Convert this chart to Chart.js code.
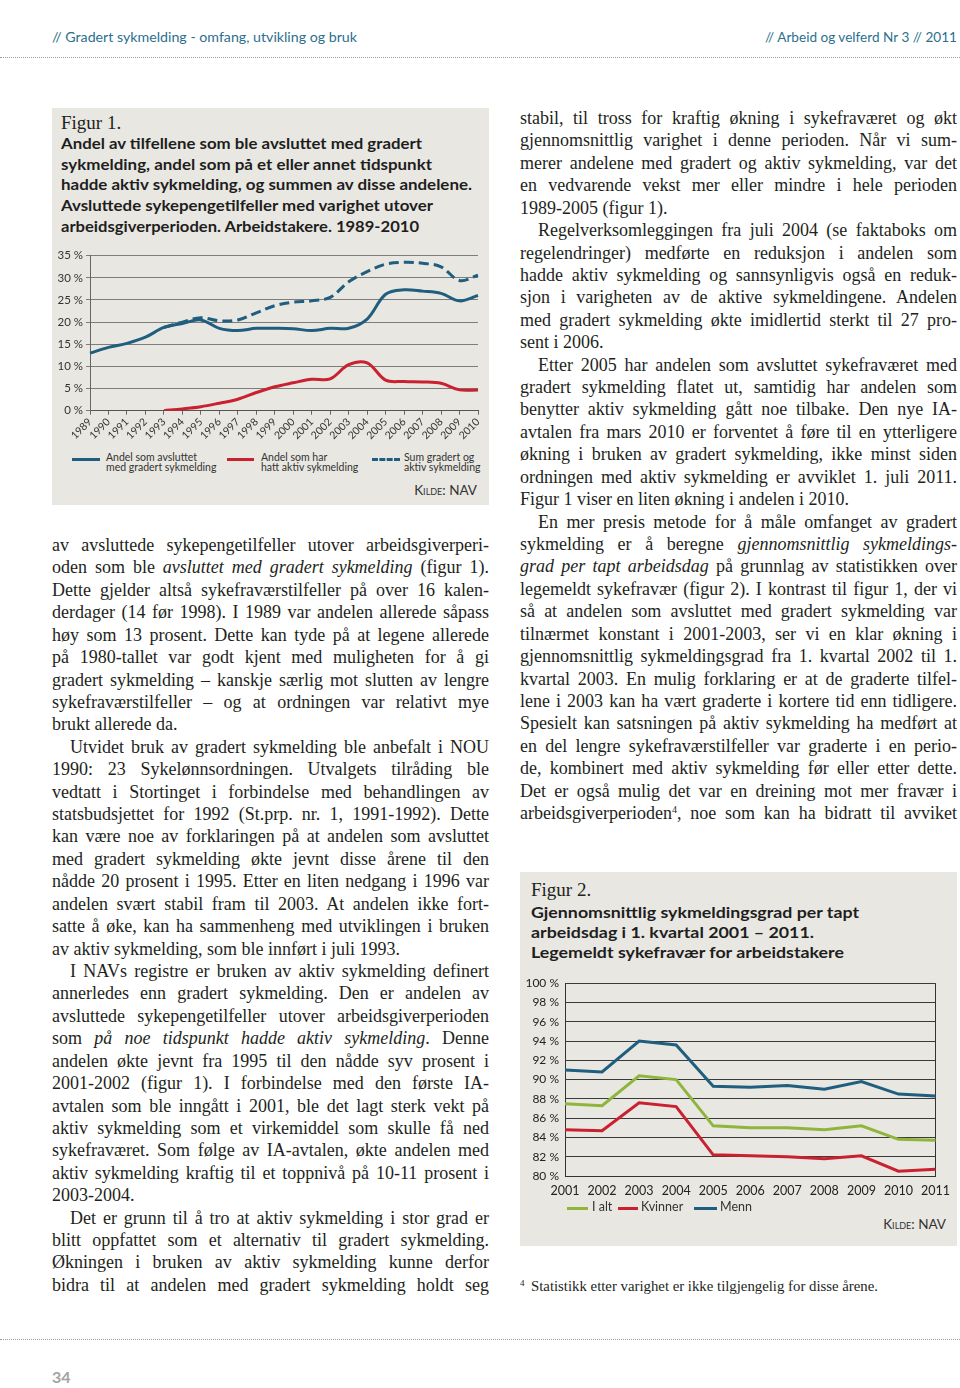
<!DOCTYPE html>
<html><head><meta charset="utf-8">
<script src="https://cdn.jsdelivr.net/npm/chart.js@4"></script>
<style>
body{margin:0;width:960px;height:1388px;background:#fff;position:relative;overflow:hidden;font-family:"Liberation Serif","Times New Roman",serif;color:#231f20}
.abs{position:absolute;white-space:nowrap}
.ln{position:absolute;white-space:nowrap;font-size:18px;line-height:22px;transform-origin:0 50%}
.panel{position:absolute;background:#e9e7e1}
.hdr{position:absolute;white-space:nowrap;font-family:Lato,"Noto Sans",sans-serif;font-size:14px;color:#2b6f8e;line-height:16px;transform-origin:0 50%}
.dots{position:absolute;left:0;width:960px;border-top:1.5px dotted #9a9a9a;height:0}
.fig{position:absolute;white-space:nowrap;font-size:19px;line-height:20px}
.tt{position:absolute;white-space:nowrap;font-family:Lato,"Noto Sans",sans-serif;font-weight:bold;font-size:15.5px;line-height:20px;color:#1e1e1e;transform-origin:0 50%}
.kilde{position:absolute;white-space:nowrap;font-family:Lato,"Noto Sans",sans-serif;font-variant:small-caps;font-size:13.5px;color:#333;line-height:16px}
.leg{position:absolute;font-family:Lato,"Noto Sans",sans-serif;color:#333;white-space:nowrap}
.sw{position:absolute;height:0}
canvas{position:absolute}
</style></head>
<body>
<div class="hdr" id="h1" style="left:52px;top:29px" data-w="305">// Gradert sykmelding - omfang, utvikling og bruk</div>
<div class="hdr" id="h2" style="left:765px;top:29px" data-w="192">// Arbeid og velferd Nr 3 // 2011</div>
<div class="dots" style="top:57px"></div>
<div class="dots" style="top:1339px"></div>

<div class="panel" style="left:52px;top:108px;width:437px;height:397px"></div>
<div class="panel" style="left:520px;top:872px;width:437px;height:374px"></div>

<div class="fig" style="left:61px;top:113px">Figur 1.</div>
<div class="fig" style="left:531px;top:880px">Figur 2.</div>

<canvas id="c1" width="437" height="205" style="left:52px;top:245px"></canvas>
<canvas id="c2" width="437" height="230" style="left:520px;top:970px"></canvas>

<div class="kilde" style="right:483px;top:482px">Kilde: NAV</div>
<div class="kilde" style="right:14px;top:1216px">Kilde: NAV</div>

<div class="abs" style="left:520px;top:1278px;font-size:9px">4</div>
<div class="abs" id="fn" style="left:531px;top:1279px;font-size:14px;line-height:16px;transform-origin:0 50%" data-w="347">Statistikk etter varighet er ikke tilgjengelig for disse årene.</div>

<div class="abs" style="left:52px;top:1367px;font-family:Lato,'Noto Sans',sans-serif;font-weight:bold;font-size:16px;color:#a3a3a3">34</div>

<script>
// ---------- DATA ----------
const years1 = ['1989','1990','1991','1992','1993','1994','1995','1996','1997','1998','1999','2000','2001','2002','2003','2004','2005','2006','2007','2008','2009','2010'];
const gradert = [13.0,14.3,15.2,16.6,18.8,19.7,20.5,18.6,18.1,18.6,18.6,18.5,18.1,18.6,18.6,20.7,26.3,27.3,27.0,26.5,24.8,26.0];
const aktiv   = [null,null,null,null,0.0,0.4,0.9,1.7,2.6,4.1,5.4,6.3,7.1,7.2,10.4,10.8,6.9,6.6,6.5,6.2,4.7,4.7];
const sumGA   = [null,null,null,null,18.8,20.0,21.0,20.3,20.5,22.1,23.7,24.5,24.8,25.6,29.1,31.4,33.1,33.5,33.3,32.5,29.4,30.6];
const names1  = ['Andel som avsluttet\nmed gradert sykmelding','Andel som har\nhatt aktiv sykmelding','Sum gradert og\naktiv sykmelding'];

const years2  = ['2001','2002','2003','2004','2005','2006','2007','2008','2009','2010','2011'];
const iAlt    = [87.5,87.3,90.4,90.0,85.2,85.0,85.0,84.8,85.2,83.8,83.7];
const kvinner = [84.8,84.7,87.6,87.2,82.2,82.1,82.0,81.8,82.1,80.5,80.7];
const menn    = [91.0,90.8,94.0,93.6,89.3,89.2,89.4,89.0,89.8,88.5,88.3];
const names2  = ['I alt','Kvinner','Menn'];

const title1 = ['Andel av tilfellene som ble avsluttet med gradert','sykmelding, andel som på et eller annet tidspunkt','hadde aktiv sykmelding, og summen av disse andelene.','Avsluttede sykepengetilfeller med varighet utover','arbeidsgiverperioden. Arbeidstakere. 1989-2010'];
const title1W = [361,371,411,372,358];
const title2 = ['Gjennomsnittlig sykmeldingsgrad per tapt','arbeidsdag i 1. kvartal 2001 – 2011.','Legemeldt sykefravær for arbeidstakere'];
const title2W = [328,283,313];

const leftCol = [
'av avsluttede sykepengetilfeller utover arbeidsgiverperi-',
'oden som ble <i>avsluttet med gradert sykmelding</i> (figur 1).',
'Dette gjelder altså sykefraværstilfeller på over 16 kalen-',
'derdager (14 før 1998). I 1989 var andelen allerede såpass',
'høy som 13 prosent. Dette kan tyde på at legene allerede',
'på 1980-tallet var godt kjent med muligheten for å gi',
'gradert sykmelding – kanskje særlig mot slutten av lengre',
'sykefraværstilfeller – og at ordningen var relativt mye',
'brukt allerede da.|',
'>Utvidet bruk av gradert sykmelding ble anbefalt i NOU',
'1990: 23 Sykelønnsordningen. Utvalgets tilråding ble',
'vedtatt i Stortinget i forbindelse med behandlingen av',
'statsbudsjettet for 1992 (St.prp. nr. 1, 1991-1992). Dette',
'kan være noe av forklaringen på at andelen som avsluttet',
'med gradert sykmelding økte jevnt disse årene til den',
'nådde 20 prosent i 1995. Etter en liten nedgang i 1996 var',
'andelen svært stabil fram til 2003. At andelen ikke fort-',
'satte å øke, kan ha sammenheng med utviklingen i bruken',
'av aktiv sykmelding, som ble innført i juli 1993.|',
'>I NAVs registre er bruken av aktiv sykmelding definert',
'annerledes enn gradert sykmelding. Den er andelen av',
'avsluttede sykepengetilfeller utover arbeidsgiverperioden',
'som <i>på noe tidspunkt hadde aktiv sykmelding</i>. Denne',
'andelen økte jevnt fra 1995 til den nådde syv prosent i',
'2001-2002 (figur 1). I forbindelse med den første IA-',
'avtalen som ble inngått i 2001, ble det lagt sterk vekt på',
'aktiv sykmelding som et virkemiddel som skulle få ned',
'sykefraværet. Som følge av IA-avtalen, økte andelen med',
'aktiv sykmelding kraftig til et toppnivå på 10-11 prosent i',
'2003-2004.|',
'>Det er grunn til å tro at aktiv sykmelding i stor grad er',
'blitt oppfattet som et alternativ til gradert sykmelding.',
'Økningen i bruken av aktiv sykmelding kunne derfor',
'bidra til at andelen med gradert sykmelding holdt seg'
];
const rightCol = [
'stabil, til tross for kraftig økning i sykefraværet og økt',
'gjennomsnittlig varighet i denne perioden. Når vi sum-',
'merer andelene med gradert og aktiv sykmelding, var det',
'en vedvarende vekst mer eller mindre i hele perioden',
'1989-2005 (figur 1).|',
'>Regelverksomleggingen fra juli 2004 (se faktaboks om',
'regelendringer) medførte en reduksjon i andelen som',
'hadde aktiv sykmelding og sannsynligvis også en reduk-',
'sjon i varigheten av de aktive sykmeldingene. Andelen',
'med gradert sykmelding økte imidlertid sterkt til 27 pro-',
'sent i 2006.|',
'>Etter 2005 har andelen som avsluttet sykefraværet med',
'gradert sykmelding flatet ut, samtidig har andelen som',
'benytter aktiv sykmelding gått noe tilbake. Den nye IA-',
'avtalen fra mars 2010 er forventet å føre til en ytterligere',
'økning i bruken av gradert sykmelding, ikke minst siden',
'ordningen med aktiv sykmelding er avviklet 1. juli 2011.',
'Figur 1 viser en liten økning i andelen i 2010.|',
'>En mer presis metode for å måle omfanget av gradert',
'sykmelding er å beregne <i>gjennomsnittlig sykmeldings-</i>',
'<i>grad per tapt arbeidsdag</i> på grunnlag av statistikken over',
'legemeldt sykefravær (figur 2). I kontrast til figur 1, der vi',
'så at andelen som avsluttet med gradert sykmelding var',
'tilnærmet konstant i 2001-2003, ser vi en klar økning i',
'gjennomsnittlig sykmeldingsgrad fra 1. kvartal 2002 til 1.',
'kvartal 2003. En mulig forklaring er at de graderte tilfel-',
'lene i 2003 kan ha vært graderte i kortere tid enn tidligere.',
'Spesielt kan satsningen på aktiv sykmelding ha medført at',
'en del lengre sykefraværstilfeller var graderte i en perio-',
'de, kombinert med aktiv sykmelding før eller etter dette.',
'Det er også mulig det var en dreining mot mer fravær i',
'arbeidsgiverperioden<sup style="font-size:10px;vertical-align:6px;line-height:0">4</sup>, noe som kan ha bidratt til avviket'
];

// ---------- TEXT LAYOUT ----------
function placeLines(lines, x, y0, step, width){
  const items=[];
  lines.forEach((s,i)=>{
    let indent=0, mode='j', html=s;
    if(html.startsWith('>')){indent=18;html=html.slice(1);}
    if(html.endsWith('|')){mode='l';html=html.slice(0,-1);}
    const el=document.createElement('div');
    el.className='ln';
    el.style.left=(x+indent)+'px';
    el.style.top=(y0+i*step-11)+'px';
    el.innerHTML='<span>'+html+'</span>';
    document.body.appendChild(el);
    items.push({el,mode,target:width-indent});
  });
  items.forEach(o=>{o.w=o.el.firstChild.getBoundingClientRect().width;});
  const ratios=items.filter(o=>o.mode==='j').map(o=>o.target/o.w).sort((a,b)=>a-b);
  const s=Math.min(1,ratios[Math.floor(ratios.length*0.5)]);
  items.forEach(o=>{
    const n=(o.el.textContent.match(/ /g)||[]).length;
    if(o.mode==='j'){
      if(o.w*s<=o.target){
        o.el.style.transform='scaleX('+s+')';
        if(n) o.el.style.wordSpacing=((o.target-o.w*s)/n/s)+'px';
      } else {
        o.el.style.transform='scaleX('+(o.target/o.w)+')';
      }
    } else {
      o.el.style.transform='scaleX('+s+')';
    }
  });
}
function fitEl(el,target){
  const w=el.getBoundingClientRect().width;
  el.style.transform='scaleX('+(target/w)+')';
}
function placeTitle(lines,widths,x,y0,step){
  lines.forEach((t,i)=>{
    const el=document.createElement('div');
    el.className='tt';
    el.style.left=x+'px';
    el.style.top=(y0+i*step-10)+'px';
    el.textContent=t;
    document.body.appendChild(el);
    fitEl(el,widths[i]);
  });
}
function placeLegend(names,colors,dashes,xs,swW,textX,y,fs,lh){
  names.forEach((nm,i)=>{
    const sw=document.createElement('div');
    sw.className='sw';
    sw.style.left=xs[i]+'px';
    sw.style.top=(y-1.5)+'px';
    sw.style.width=swW[i]+'px';
    sw.style.borderTop='3.5px '+(dashes[i]?'dashed ':'solid ')+colors[i];
    document.body.appendChild(sw);
    const tx=document.createElement('div');
    tx.className='leg';
    tx.style.left=textX[i]+'px';
    tx.style.top=(y-lh/2-1)+'px';
    tx.style.fontSize=fs+'px';
    tx.style.lineHeight=lh+'px';
    tx.innerHTML=nm.split('\n').join('<br>');
    document.body.appendChild(tx);
  });
}

const BLUE='#1f5e7e', RED='#c9212f', GREEN='#8fb53d';

placeLines(leftCol,52,545,22.42,437);
placeLines(rightCol,520,118,22.42,437);
placeTitle(title1,title1W,61,143,20.7);
placeTitle(title2,title2W,531,912,20.2);
fitEl(document.getElementById('h1'),305);
fitEl(document.getElementById('h2'),192);
fitEl(document.getElementById('fn'),347);

placeLegend(names1,[BLUE,RED,BLUE],[false,false,true],[72,227,372],[28,27,28],[106,261,404],459,10.5,9.5);
placeLegend(names2,[GREEN,RED,BLUE],[false,false,false],[567,618,694],[21,20,23],[592,641,720],1208,12.5,14);

// ---------- CHARTS ----------
Chart.defaults.font.family='Lato, "Noto Sans", sans-serif';
Chart.defaults.color='#333';
Chart.defaults.animation=false;

new Chart(document.getElementById('c1'),{
  type:'line',
  data:{labels:years1,datasets:[
    {label:names1[2],data:sumGA,borderColor:BLUE,borderWidth:3,borderDash:[10,5],pointRadius:0,tension:0.35,fill:false},
    {label:names1[0],data:gradert,borderColor:BLUE,borderWidth:3,pointRadius:0,tension:0.35,fill:false},
    {label:names1[1],data:aktiv,borderColor:RED,borderWidth:3,pointRadius:0,tension:0.35,fill:false}
  ]},
  options:{
    responsive:false,
    layout:{padding:{top:10.7,right:11,left:0,bottom:0}},
    plugins:{legend:{display:false},tooltip:{enabled:false}},
    scales:{
      x:{offset:false,
        afterFit:(s)=>{s.height=39.3;},
        ticks:{maxRotation:45,minRotation:45,autoSkip:false,font:{size:10.5},color:'#333',padding:1},
        grid:{drawOnChartArea:false,drawTicks:true,tickLength:4,color:'#666'},
        border:{display:true,color:'#555',width:1}},
      y:{min:0,max:35,
        afterFit:(s)=>{s.width=38;},
        ticks:{stepSize:5,callback:(v)=>v+' %',font:{size:11.5},color:'#333',padding:3},
        grid:{color:'#7d7d7d',lineWidth:1,tickLength:4,drawTicks:true},
        border:{display:true,color:'#666',width:1}}
    }
  }
});

new Chart(document.getElementById('c2'),{
  type:'line',
  data:{labels:years2,datasets:[
    {label:names2[0],data:iAlt,borderColor:GREEN,borderWidth:3,pointRadius:0,tension:0,fill:false},
    {label:names2[1],data:kvinner,borderColor:RED,borderWidth:3,pointRadius:0,tension:0,fill:false},
    {label:names2[2],data:menn,borderColor:BLUE,borderWidth:3,pointRadius:0,tension:0,fill:false}
  ]},
  options:{
    responsive:false,
    layout:{padding:{top:12,right:15,left:0,bottom:0}},
    plugins:{legend:{display:false},tooltip:{enabled:false}},
    scales:{
      x:{offset:false,
        afterFit:(s)=>{s.height=24;},
        ticks:{maxRotation:0,autoSkip:false,font:{size:12.5},color:'#222',padding:7},
        grid:{drawTicks:false,color:(c)=>c.index===years2.length-1?'#333':'rgba(0,0,0,0)',lineWidth:1},
        border:{display:true,color:'#333',width:1}},
      y:{min:80,max:100,
        afterFit:(s)=>{s.width=45;},
        ticks:{stepSize:2,callback:(v)=>v+' %',font:{size:12},color:'#222',padding:6},
        grid:{color:'#3a3a3a',lineWidth:1,drawTicks:false},
        border:{display:true,color:'#333',width:1}}
    }
  }
});
</script>
</body></html>
